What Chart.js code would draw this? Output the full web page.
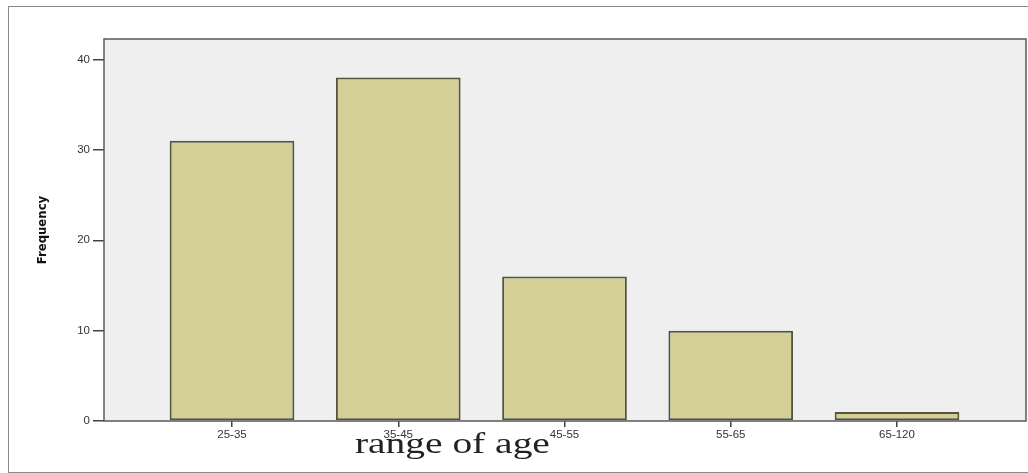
<!DOCTYPE html>
<html>
<head>
<meta charset="utf-8">
<script src="https://cdn.jsdelivr.net/npm/chart.js@4"></script>
<style>
  html, body { margin: 0; padding: 0; background: #fff; }
  #wrap { position: relative; width: 1028px; height: 473px; overflow: hidden; }
  #frame { position: absolute; left: 8px; top: 6px; width: 1040px; height: 465px; border: 1px solid #8a8a8a; }
  canvas { position: absolute; left: 0; top: 0; }
</style>
</head>
<body>
<div id="wrap">
  <div id="frame"></div>
  <canvas id="ageChart" width="1028" height="473"></canvas>
</div>
<script>
const ageRanges = ["25-35", "35-45", "45-55", "55-65", "65-120"];
const frequency = [31, 38, 16, 10, 1];
const yTicks = [0, 10, 20, 30, 40];
const xTitle = "range of age";
const yTitle = "Frequency";

// grey plot box with a dark frame, like the SPSS output
const plotBox = {
  id: "plotBox",
  beforeDatasetsDraw(chart) {
    const { ctx, chartArea: a } = chart;
    ctx.save();
    ctx.fillStyle = "#efefef";
    ctx.fillRect(a.left, a.top, a.right - a.left, a.bottom - a.top);
    ctx.restore();
  },
  afterDatasetsDraw(chart) {
    const { ctx, chartArea: a } = chart;
    ctx.save();
    ctx.strokeStyle = "#5a5a5a";
    ctx.lineWidth = 1.5;
    ctx.strokeRect(a.left, a.top, a.right - a.left, a.bottom - a.top);
    ctx.restore();
  },
  afterDraw(chart) {
    // x title sits under the 2nd/3rd ticks, overlapping the labels (stretched serif)
    const { ctx, scales } = chart;
    ctx.save();
    ctx.font = "29px 'Liberation Serif', 'DejaVu Serif', serif";
    ctx.fillStyle = "#222";
    ctx.textAlign = "center";
    ctx.textBaseline = "alphabetic";
    const x = (scales.x.getPixelForValue(1) + scales.x.getPixelForValue(2)) / 2 - 29;
    const w = ctx.measureText(xTitle).width;
    ctx.translate(x, scales.x.bottom - 20);
    ctx.scale(195 / w, 1);
    ctx.fillText(xTitle, 0, 0);
    ctx.restore();
  }
};

new Chart(document.getElementById("ageChart"), {
  type: "bar",
  data: {
    datasets: [{
      label: yTitle,
      data: frequency.map((v, i) => ({ x: i, y: v })),
      backgroundColor: "#d3cf97",
      borderColor: "#55553f",
      borderWidth: 2,
      borderSkipped: false,
      barPercentage: 0.75,
      categoryPercentage: 1
    }]
  },
  options: {
    responsive: false,
    animation: false,
    layout: { padding: { top: 39, right: 2, left: 0, bottom: 0 } },
    plugins: {
      legend: { display: false },
      tooltip: { enabled: false }
    },
    scales: {
      x: {
        type: "linear",
        offset: false,
        min: -0.77,
        max: 4.776,
        afterBuildTicks: s => { s.ticks = ageRanges.map((_, i) => ({ value: i })); },
        afterFit: s => { s.height = 52; },
        border: { display: false },
        grid: { offset: false, drawOnChartArea: false, tickLength: 6, tickColor: "#444", lineWidth: 1.5 },
        ticks: {
          autoSkip: false,
          maxRotation: 0,
          padding: 1,
          color: "#333",
          font: { family: "'Liberation Sans', Arial, sans-serif", size: 11.5 },
          callback: v => ageRanges[v]
        }
      },
      y: {
        min: 0,
        max: 42.27,
        afterBuildTicks: s => { s.ticks = yTicks.map(v => ({ value: v })); },
        afterFit: s => { s.width = 104; },
        border: { display: false },
        grid: { drawOnChartArea: false, tickLength: 11, tickColor: "#444", lineWidth: 1.5 },
        ticks: {
          padding: 3,
          color: "#333",
          font: { family: "'Liberation Sans', Arial, sans-serif", size: 11.5 }
        },
        title: {
          display: true,
          text: yTitle,
          color: "#111",
          padding: { top: 35, bottom: 0 },
          font: { family: "'Liberation Sans Narrow', 'DejaVu Sans Condensed', sans-serif", size: 13, weight: "bold" }
        }
      }
    }
  },
  plugins: [plotBox]
});
</script>
</body>
</html>
